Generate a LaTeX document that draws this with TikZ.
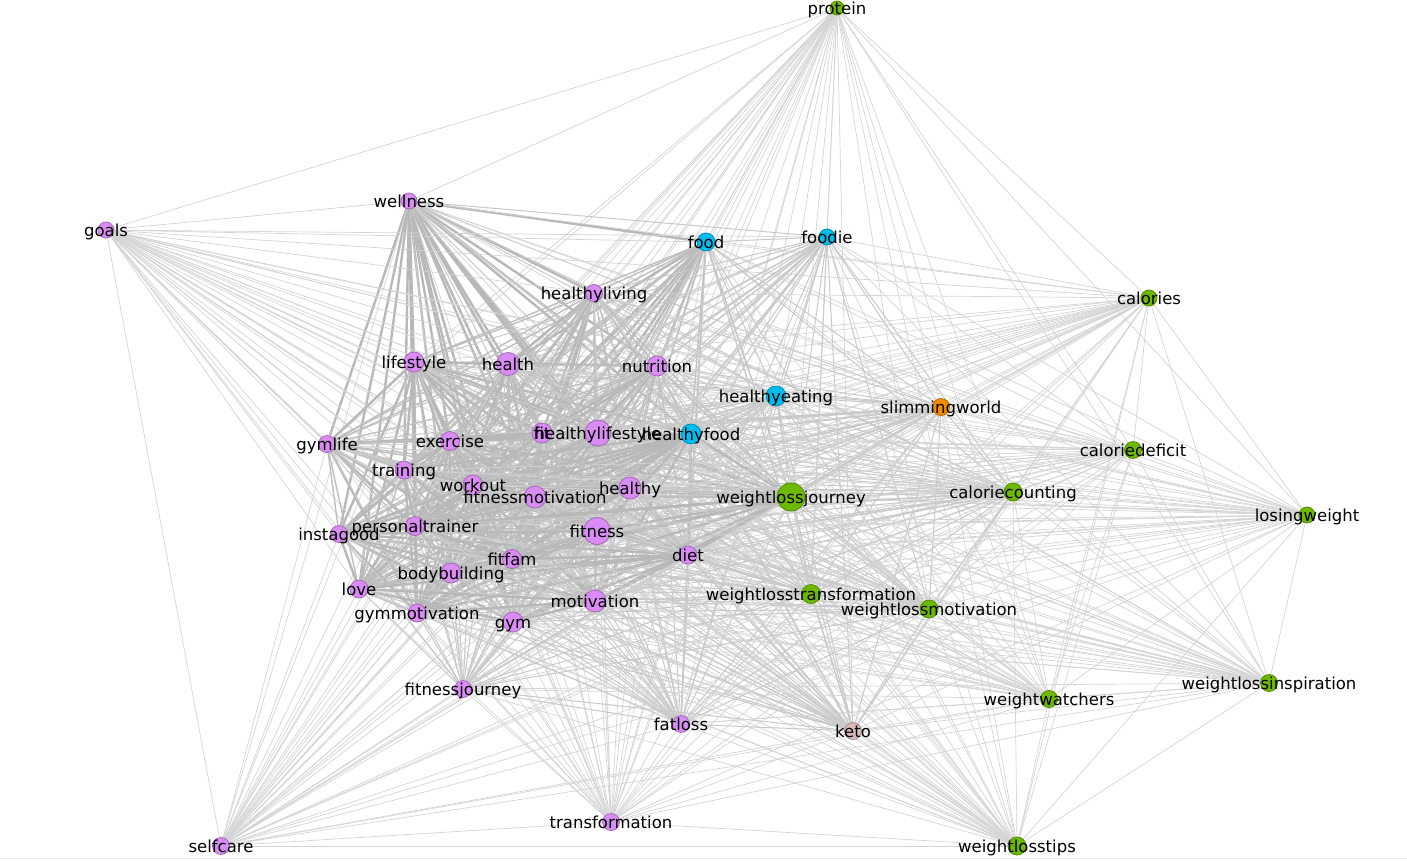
\documentclass[tikz,border=0pt]{standalone}
\usepackage{fontspec}
\setmainfont{DejaVu Sans}
\usepackage{xcolor}
\usepackage{tikz}
\usetikzlibrary{arrows.meta,positioning,calc}
\definecolor{tviolet}{HTML}{D98CF3}
\definecolor{tblue}{HTML}{00BCEF}
\definecolor{tgreen}{HTML}{6DB800}
\definecolor{torange}{HTML}{F28C00}
\definecolor{tketo}{HTML}{D9B9B9}
\pgfdeclarelayer{edges}
\pgfsetlayers{edges,main}

\begin{document}
\begin{tikzpicture}[
	x=1pt,
	y=-1pt,
	line cap=round,
	tag/.style={circle,fill=#1,draw=#1!75!black,line width=.8pt,inner sep=0pt},
	taglabel/.style={inner sep=0pt,text depth=0pt,text height=12.5pt,
		font=\fontsize{16.5}{18}\selectfont},
	edge1/.style={draw=black!17,line width=.7pt},
	edge2/.style={draw=black!21,line width=1pt},
	edge3/.style={draw=black!25,line width=1.4pt},
	edge4/.style={draw=black!28,line width=2.4pt}
	]
	
	\useasboundingbox (0,0) rectangle (1407,860);
	
	% name / x / y / radius / colour / weight class
	\def\tags{%
		protein/837/8/7/tgreen/1,
		wellness/409/201/8/tviolet/3,
		goals/106/230/8/tviolet/1,
		food/706/242/9/tblue/3,
		foodie/827/237/8/tblue/2,
		calories/1149/298/8/tgreen/1,
		healthyliving/594/293/8.5/tviolet/3,
		lifestyle/414/362/10/tviolet/3,
		health/508/364/11.5/tviolet/3,
		nutrition/657/366/10/tviolet/3,
		healthyeating/776/396/10/tblue/2,
		slimmingworld/941/407/8.5/torange/2,
		gymlife/327/444/8.5/tviolet/3,
		exercise/450/441/9.5/tviolet/3,
		fit/542/433/10/tviolet/3,
		healthylifestyle/598/433/13/tviolet/3,
		healthyfood/691/434/10/tblue/3,
		caloriedeficit/1133/450/8.5/tgreen/1,
		training/404/470/9/tviolet/3,
		workout/473/485/10/tviolet/3,
		fitnessmotivation/535/497/11/tviolet/3,
		healthy/630/488/11/tviolet/3,
		weightlossjourney/791/497/14/tgreen/3,
		caloriecounting/1013/492/9/tgreen/2,
		losingweight/1307/515/8/tgreen/1,
		instagood/339/534/8.5/tviolet/3,
		personaltrainer/415/526/9.5/tviolet/3,
		fitness/597/531/13.5/tviolet/3,
		diet/688/555/9/tviolet/3,
		fitfam/512/559/9.5/tviolet/3,
		bodybuilding/451/573/10/tviolet/3,
		love/359/589/9/tviolet/3,
		weightlosstransformation/811/594/9.5/tgreen/2,
		weightlossmotivation/929/609/9/tgreen/2,
		motivation/595/601/11/tviolet/3,
		gymmotivation/417/613/9/tviolet/3,
		gym/513/622/10/tviolet/3,
		fitnessjourney/463/689/8.5/tviolet/2,
		weightlossinspiration/1269/683/8.5/tgreen/1,
		weightwatchers/1049/699/8.5/tgreen/1,
		fatloss/681/724/8.5/tviolet/2,
		keto/853/731/8.5/tketo/2,
		transformation/611/822/8.5/tviolet/1,
		selfcare/221/846/8.5/tviolet/1,
		weightlosstips/1017/846/9/tgreen/1}
	
	% faint frame line at the bottom
	\draw[black!8,line width=1pt] (0,858.5) -- (1407,858.5);
	
	%------------------------------
	% Hashtag nodes
	%------------------------------
	\foreach \n/\x/\y/\r/\c/\k in \tags{
		\node[tag=\c,minimum size=2*\r] (\n) at (\x,\y) {};
	}
	
	%------------------------------
	% Co-occurrence edges (every pair), behind the nodes
	%------------------------------
	\begin{pgfonlayer}{edges}
		\foreach \a/\xa/\ya/\ra/\ca/\ka [count=\i] in \tags{
			\foreach \b/\xb/\yb/\rb/\cb/\kb [count=\j] in \tags{
				\ifnum\j>\i
				\pgfmathtruncatemacro{\w}{min(\ka,\kb)+(min(\ka,\kb)==3)*(mod(\i*\j+\j,3)==0)}
				\draw[edge\w] (\a) -- (\b);
				\fi
			}
		}
	\end{pgfonlayer}
	
	%------------------------------
	% Labels on top
	%------------------------------
	\foreach \n/\x/\y/\r/\c/\k in \tags{
		\node[taglabel] (\n-label) at (\n) {\n};
	}
	
\end{tikzpicture}
\end{document}
